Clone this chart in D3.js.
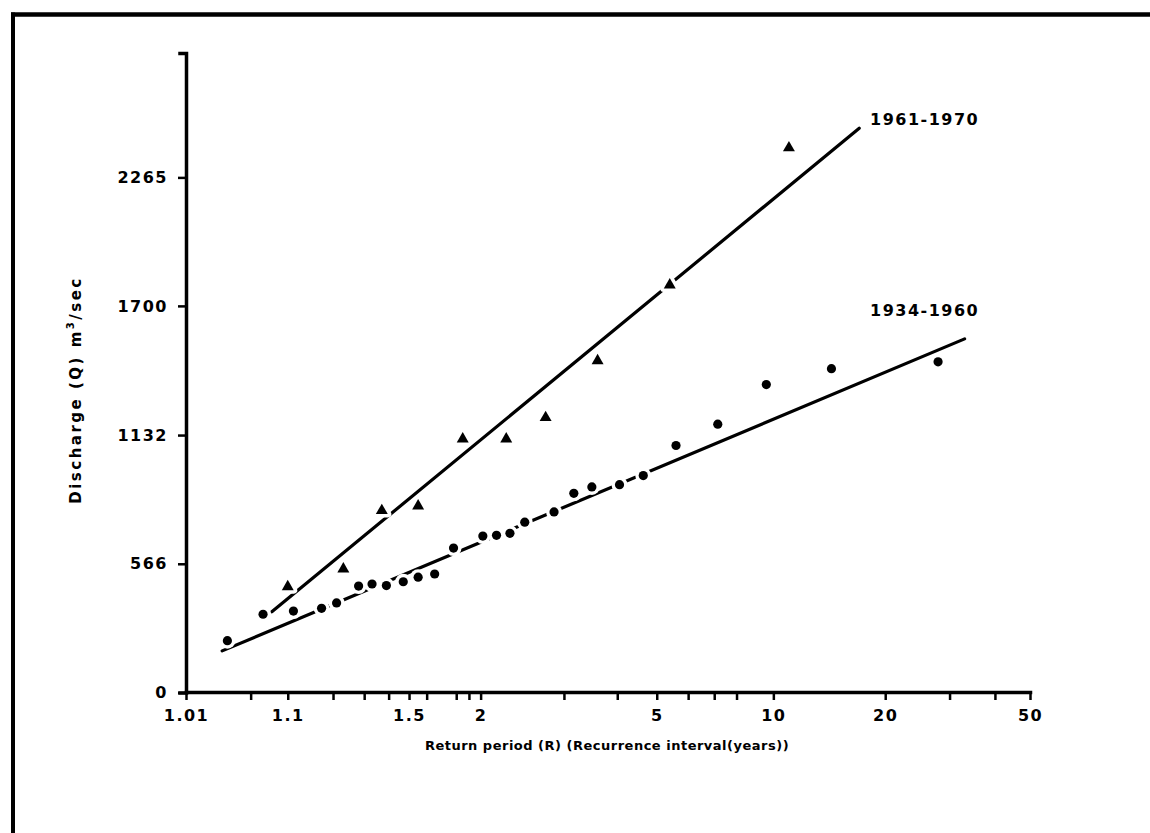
<!DOCTYPE html>
<html><head><meta charset="utf-8">
<script src="https://cdn.jsdelivr.net/npm/d3@7"></script>
<style>html,body{margin:0;padding:0;background:#fff;} svg{display:block;background:#fff;}</style>
</head><body>
<svg id="chart" width="1150" height="833"></svg>
<script>
// ---- data ----
const xMajorTicks = [1.01, 1.1, 1.5, 2, 5, 10, 20, 50];
const xMinorTicks = [1.05, 1.2, 1.3, 1.4, 1.6, 1.8, 1.9, 3, 4, 6, 7, 8, 30, 40];
const yTicks = [0, 566, 1132, 1700, 2265];

// 1934-1960 observed annual floods: return period (years) and discharge (m3/sec)
const obs1934T = [1.03, 1.064, 1.11, 1.17, 1.21, 1.28, 1.33, 1.39, 1.47, 1.55, 1.65, 1.78, 2.02, 2.15, 2.29, 2.46, 2.85, 3.16, 3.48, 4.05, 4.63, 5.59, 7.15, 9.58, 14.3, 27.9];
const obs1934Q = [228, 344, 358, 370, 394, 468, 477, 470, 487, 507, 521, 635, 688, 691, 700, 749, 794, 876, 904, 914, 954, 1086, 1180, 1354, 1424, 1454];
// 1961-1970 observed annual floods
const obs1961T = [1.10, 1.23, 1.37, 1.55, 1.85, 2.25, 2.73, 3.59, 5.39, 11.0];
const obs1961Q = [465, 543, 800, 820, 1115, 1115, 1209, 1459, 1792, 2395];
// fitted lines (end points)
const fit1934T = [1.0265, 33.0];
const fit1934Q = [183, 1555];
const fit1961T = [1.0755, 17.0];
const fit1961Q = [355, 2481];

const seriesLabels = ["1961-1970", "1934-1960"];
const xTitle = "Return period (R) (Recurrence interval(years))";
const yTitle = ["Discharge (Q) m", "3", "/sec"];

// ---- scales ----
const gumbel = T => -Math.log(-Math.log(1 - 1 / T));
const xLin = d3.scaleLinear().domain([gumbel(1.01), gumbel(50)]).range([186, 1030]);
function x(T) { return xLin(gumbel(T)); }
x.domain = () => [1.01, 50];
x.range = () => xLin.range();
x.copy = () => x;
const y = d3.scaleLinear().domain([0, 2812]).range([692.5, 53]);

const svg = d3.select("#chart");
const FONT = "'DejaVu Sans', 'Liberation Sans', sans-serif";

// border (top and left)
svg.append("line").attr("x1", 11).attr("x2", 1150).attr("y1", 14.5).attr("y2", 14.5)
  .attr("stroke", "#000").attr("stroke-width", 4.5);
svg.append("line").attr("x1", 13).attr("x2", 13).attr("y1", 12.5).attr("y2", 833)
  .attr("stroke", "#000").attr("stroke-width", 4);

// axes
const xAxis = d3.axisBottom(x)
  .tickValues(xMajorTicks.concat(xMinorTicks))
  .tickFormat(d => xMajorTicks.includes(d) ? String(d) : "")
  .tickSize(8).tickSizeOuter(0).tickPadding(10);
const gx = svg.append("g").attr("transform", "translate(0,692)").call(xAxis);

const yAxis = d3.axisLeft(y).tickValues(yTicks).tickFormat(d3.format("d"))
  .tickSize(8).tickSizeOuter(6).tickPadding(10);
const gy = svg.append("g").attr("transform", "translate(186,0)").call(yAxis);

[gx, gy].forEach(g => {
  g.attr("font-family", FONT).attr("font-size", 16).attr("font-weight", "bold");
  g.select(".domain").attr("stroke-width", 3.5).attr("stroke-linecap", "square");
  g.selectAll(".tick line").attr("stroke-width", 2.5);
  g.selectAll(".tick text").attr("fill", "#000").attr("letter-spacing", "1.5px");
});

// fitted lines
const line = d3.line().x(d => x(d.T)).y(d => y(d.Q));
const fits = [
  fit1961T.map((T, i) => ({T, Q: fit1961Q[i]})),
  fit1934T.map((T, i) => ({T, Q: fit1934Q[i]}))
];
svg.append("g").selectAll("path").data(fits).join("path")
  .attr("d", line).attr("fill", "none").attr("stroke", "#000")
  .attr("stroke-width", 3.2).attr("stroke-linecap", "round");

// markers (white halo first, then fill — produces the gaps in the lines)
const dots = obs1934T.map((T, i) => ({T, Q: obs1934Q[i]}));
const tris = obs1961T.map((T, i) => ({T, Q: obs1961Q[i]}));
const tri = d3.symbol(d3.symbolTriangle, 62);

const halo = svg.append("g");
halo.selectAll("circle").data(dots).join("circle")
  .attr("cx", d => x(d.T)).attr("cy", d => y(d.Q)).attr("r", 8).attr("fill", "#fff");
halo.selectAll("path").data(tris).join("path")
  .attr("d", tri).attr("transform", d => `translate(${x(d.T)},${y(d.Q)})`)
  .attr("fill", "#fff").attr("stroke", "#fff").attr("stroke-width", 7).attr("stroke-linejoin", "round");

const marks = svg.append("g");
marks.selectAll("circle").data(dots).join("circle")
  .attr("cx", d => x(d.T)).attr("cy", d => y(d.Q)).attr("r", 4.6).attr("fill", "#000");
marks.selectAll("path").data(tris).join("path")
  .attr("d", tri).attr("transform", d => `translate(${x(d.T)},${y(d.Q)})`)
  .attr("fill", "#000");

// series labels
svg.append("text").attr("x", 870).attr("y", 125).text(seriesLabels[0])
  .attr("font-family", FONT).attr("font-size", 16).attr("font-weight", "bold").attr("letter-spacing", "1.5px");
svg.append("text").attr("x", 870).attr("y", 316).text(seriesLabels[1])
  .attr("font-family", FONT).attr("font-size", 16).attr("font-weight", "bold").attr("letter-spacing", "1.5px");

// axis titles
svg.append("text").attr("x", 607).attr("y", 750).attr("text-anchor", "middle")
  .attr("font-family", FONT).attr("font-size", 13).attr("font-weight", "bold")
  .attr("letter-spacing", "0.5px")
  .text(xTitle);

const yt = svg.append("text").attr("transform", "translate(81,390) rotate(-90)")
  .attr("text-anchor", "middle").attr("font-family", FONT).attr("font-size", 15).attr("font-weight", "bold")
  .attr("letter-spacing", "2.5px");
yt.append("tspan").text(yTitle[0]);
yt.append("tspan").attr("font-size", 10).attr("dy", -7).text(yTitle[1]);
yt.append("tspan").attr("dy", 7).text(yTitle[2]);
</script>
</body></html>
